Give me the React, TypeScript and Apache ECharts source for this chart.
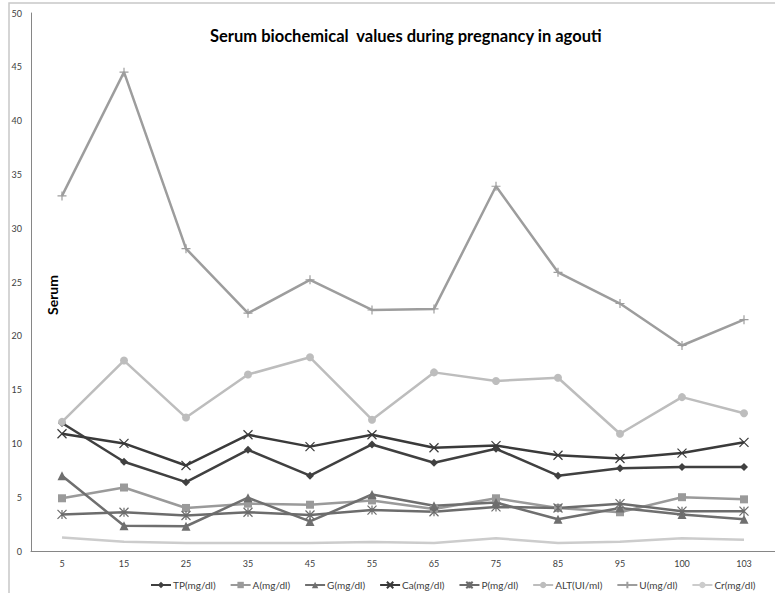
import React, { useEffect, useRef } from "react";
import * as echarts from "echarts";

const categories = ["5", "15", "25", "35", "45", "55", "65", "75", "85", "95", "100", "103"];

const tp = [11.9, 8.3, 6.4, 9.4, 7.0, 9.9, 8.2, 9.5, 7.0, 7.7, 7.8, 7.8];
const alb = [4.9, 5.9, 4.0, 4.4, 4.3, 4.7, 3.9, 4.9, 4.0, 3.6, 5.0, 4.8];
const glob = [7.0, 2.35, 2.3, 4.95, 2.75, 5.25, 4.2, 4.5, 2.95, 4.0, 3.4, 2.95];
const ca = [10.9, 10.0, 7.95, 10.8, 9.7, 10.8, 9.6, 9.8, 8.9, 8.6, 9.1, 10.1];
const phos = [3.4, 3.6, 3.3, 3.6, 3.35, 3.8, 3.65, 4.1, 4.0, 4.4, 3.7, 3.7];
const alt = [12.0, 17.7, 12.4, 16.4, 18.0, 12.2, 16.6, 15.8, 16.1, 10.9, 14.3, 12.8];
const urea = [33.0, 44.5, 28.1, 22.1, 25.2, 22.4, 22.5, 33.9, 25.9, 23.0, 19.1, 21.5];
const cr = [1.25, 0.87, 0.75, 0.75, 0.75, 0.84, 0.75, 1.18, 0.75, 0.87, 1.18, 1.05];

const seriesNames = [
  "TP(mg/dl)",
  "A(mg/dl)",
  "G(mg/dl)",
  "Ca(mg/dl)",
  "P(mg/dl)",
  "ALT(UI/ml)",
  "U(mg/dl)",
  "Cr(mg/dl)",
];

const FONT = "Lato, 'Open Sans', sans-serif";

export default function App() {
  const ref = useRef<HTMLDivElement>(null);

  useEffect(() => {
    if (!ref.current) return;
    const chart = echarts.init(ref.current, undefined, { renderer: "svg" });

    const mk = (
      name: string,
      data: number[],
      color: string,
      symbol: string,
      symbolSize: number,
      stroke = false
    ) => ({
      name,
      type: "line",
      data,
      symbol,
      symbolSize,
      showSymbol: symbol !== "none",
      lineStyle: { color, width: 2.5 },
      itemStyle: stroke
        ? { color: "rgba(0,0,0,0)", borderColor: color, borderWidth: 1.2 }
        : { color, borderWidth: 0 },
      emphasis: { disabled: true },
    });

    const xPath = "path://M0,0L10,10M10,0L0,10";
    const starPath = "path://M0,0L10,10M10,0L0,10M5,0L5,10";
    const plusPath = "path://M5,0L5,10M0,5L10,5";

    chart.setOption({
      animation: false,
      backgroundColor: "#ffffff",
      textStyle: { fontFamily: FONT },
      title: {
        text: "Serum biochemical  values during pregnancy in agouti",
        left: 205,
        top: 22,
        textStyle: { fontSize: 16.5, fontWeight: "bold", color: "#000000", fontFamily: FONT },
      },
      graphic: [
        {
          type: "polyline",
          shape: { points: [[9, 600], [9, 3], [780, 3]] },
          style: { fill: "none", stroke: "#c8c8c8", lineWidth: 1.5 },
          silent: true,
          z: -1,
        },
        {
          type: "text",
          x: 52,
          y: 295,
          rotation: Math.PI / 2,
          style: {
            text: "Serum",
            font: `bold 14px ${FONT}`,
            fill: "#000000",
            align: "center",
            verticalAlign: "middle",
          },
        },
      ],
      legend: {
        left: 145,
        top: 575,
        width: 620,
        itemWidth: 20,
        itemHeight: 8,
        itemGap: 14,
        textStyle: { fontSize: 10, color: "#404040", fontFamily: FONT, padding: [0, 0, 0, -3] },
        data: seriesNames,
      },
      grid: { left: 31, right: -1, top: 13, bottom: 42, containLabel: false },
      xAxis: {
        type: "category",
        data: categories,
        boundaryGap: true,
        axisLine: { lineStyle: { color: "#868686", width: 1 } },
        axisTick: { show: false },
        axisLabel: { fontSize: 9, color: "#404040", margin: 8, fontFamily: FONT },
        splitLine: { show: false },
      },
      yAxis: {
        type: "value",
        min: 0,
        max: 50,
        interval: 5,
        axisLine: { show: true, lineStyle: { color: "#868686", width: 1 } },
        axisTick: { show: false },
        axisLabel: { fontSize: 9, color: "#404040", margin: 9, fontFamily: FONT },
        splitLine: { show: false },
      },
      series: [
        mk(seriesNames[0], tp, "#404040", "diamond", 8),
        mk(seriesNames[1], alb, "#9a9a9a", "rect", 8),
        mk(seriesNames[2], glob, "#6f6f6f", "triangle", 9),
        mk(seriesNames[3], ca, "#3a3a3a", xPath, 9, true),
        mk(seriesNames[4], phos, "#6c6c6c", starPath, 9, true),
        mk(seriesNames[5], alt, "#bdbdbd", "circle", 8),
        mk(seriesNames[6], urea, "#9d9d9d", plusPath, 9, true),
        mk(seriesNames[7], cr, "#cccccc", "none", 0),
      ],
    });

    return () => chart.dispose();
  }, []);

  return (
    <div
      ref={ref}
      style={{ position: "fixed", left: 0, top: 0, width: 775, height: 593, background: "#fff" }}
    />
  );
}
